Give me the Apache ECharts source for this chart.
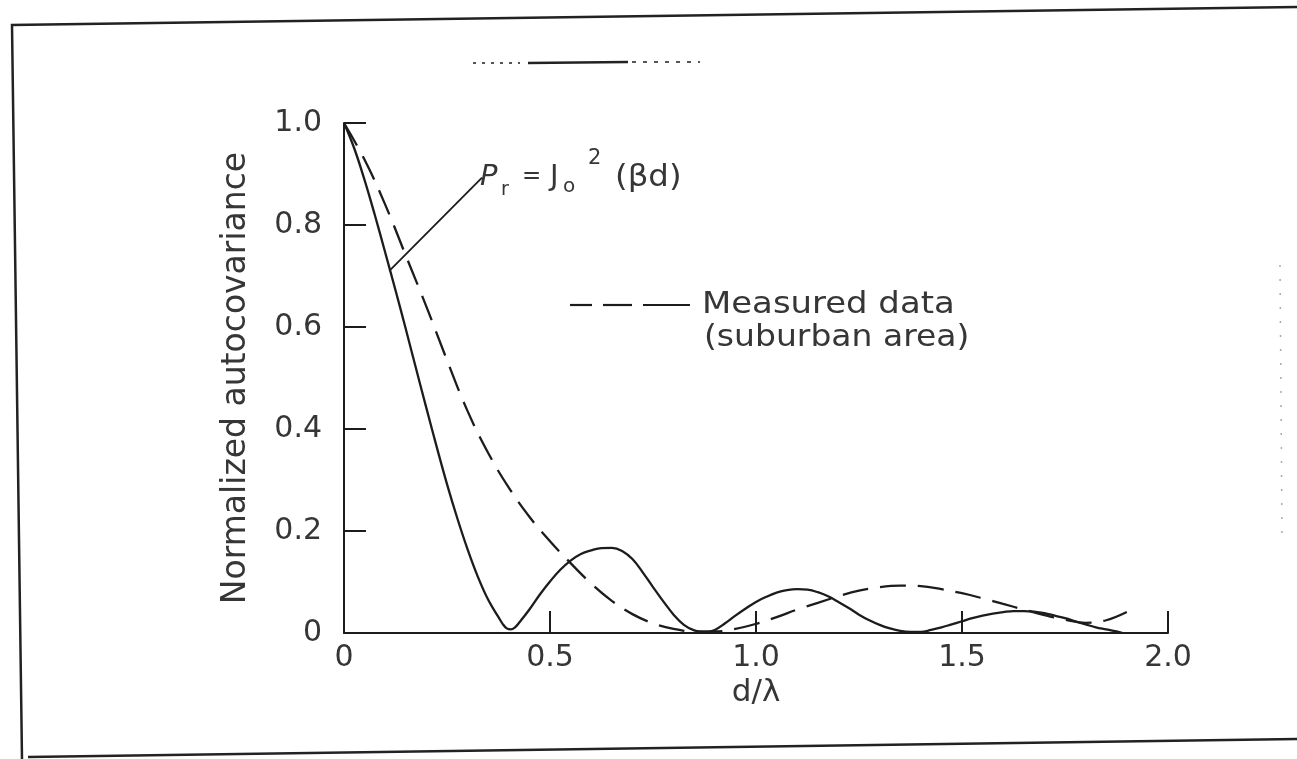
<!DOCTYPE html>
<html><head><meta charset="utf-8">
<script src="https://cdn.jsdelivr.net/npm/echarts@6/dist/echarts.min.js"></script>
<style>html,body{margin:0;padding:0;background:#fff}#c{width:1297px;height:759px}</style>
</head><body><div id="c"></div>
<script>
// Theoretical curve  P_r = J0^2(beta d)
const theoryX = [0, 0.025, 0.05, 0.075, 0.1, 0.125, 0.15, 0.175, 0.2, 0.225, 0.25, 0.275, 0.3, 0.325, 0.35, 0.375, 0.385, 0.395, 0.405, 0.415, 0.425, 0.45, 0.475, 0.5, 0.525, 0.55, 0.575, 0.6, 0.625, 0.65, 0.675, 0.7, 0.725, 0.75, 0.775, 0.8, 0.825, 0.85, 0.875, 0.9, 0.925, 0.95, 0.975, 1.0, 1.025, 1.05, 1.075, 1.1, 1.125, 1.15, 1.175, 1.2, 1.225, 1.25, 1.275, 1.3, 1.325, 1.35, 1.375, 1.4, 1.425, 1.45, 1.475, 1.5, 1.525, 1.55, 1.575, 1.6, 1.625, 1.65, 1.675, 1.7, 1.725, 1.75, 1.775, 1.8, 1.825, 1.85, 1.875, 1.89];
const theoryY = [1.0, 0.95, 0.888, 0.819, 0.746, 0.672, 0.596, 0.518, 0.441, 0.365, 0.292, 0.225, 0.164, 0.11, 0.065, 0.031, 0.018, 0.009, 0.007, 0.011, 0.02, 0.046, 0.075, 0.101, 0.124, 0.142, 0.155, 0.162, 0.1665, 0.167, 0.161, 0.145, 0.119, 0.09, 0.062, 0.036, 0.016, 0.005, 0.001, 0.006, 0.019, 0.034, 0.048, 0.061, 0.071, 0.079, 0.084, 0.086, 0.085, 0.08, 0.072, 0.061, 0.049, 0.036, 0.025, 0.016, 0.009, 0.004, 0.002, 0.002, 0.006, 0.011, 0.017, 0.023, 0.029, 0.034, 0.038, 0.041, 0.043, 0.043, 0.042, 0.039, 0.034, 0.029, 0.023, 0.017, 0.011, 0.007, 0.003, 0.0];
// Measured data (suburban area)
const measuredX = [0, 0.05, 0.1, 0.15, 0.2, 0.25, 0.3, 0.35, 0.4, 0.45, 0.5, 0.55, 0.6, 0.65, 0.7, 0.75, 0.8, 0.85, 0.9, 0.95, 1.0, 1.05, 1.1, 1.15, 1.2, 1.25, 1.3, 1.35, 1.4, 1.45, 1.5, 1.55, 1.6, 1.65, 1.7, 1.75, 1.8, 1.85, 1.9];
const measuredY = [1.0, 0.928, 0.84, 0.74, 0.64, 0.535, 0.435, 0.353, 0.285, 0.228, 0.18, 0.137, 0.097, 0.063, 0.037, 0.019, 0.008, 0.003, 0.003, 0.008, 0.018, 0.031, 0.046, 0.059, 0.072, 0.083, 0.09, 0.093, 0.092, 0.086, 0.078, 0.068, 0.057, 0.046, 0.035, 0.026, 0.02, 0.025, 0.041];
// Axis ticks
const xTicks = [0, 0.5, 1.0, 1.5, 2.0];
const yTicks = [0, 0.2, 0.4, 0.6, 0.8, 1.0];
// Leader line of the formula label (data coords)
const leaderFrom = [0.11, 0.71];
const leaderTo = [0.335, 0.893];

const INK = '#1c1c1c';
const TXT = '#363636';
const FONT = 'DejaVu Sans';
const zip = (xs, ys) => xs.map((x, i) => [x, ys[i]]);
const fmt = v => (v === 0 ? '0' : v.toFixed(1));

const chart = echarts.init(document.getElementById('c'), null, {renderer: 'canvas'});
const axisCommon = {
  type: 'value',
  axisLine: {show: true, lineStyle: {color: INK, width: 2}},
  axisTick: {show: true, inside: true, length: 22, lineStyle: {color: INK, width: 2}},
  splitLine: {show: false},
  axisLabel: {color: TXT, fontFamily: FONT, fontSize: 30, formatter: fmt}
};
const txt = (text, x, y, size, extra, sx) => ({
  type: 'text', x: x, y: y, scaleX: sx || 1,
  style: Object.assign({text: text, fontFamily: FONT, fontSize: size, fill: TXT, verticalAlign: 'middle'}, extra || {})
});
chart.setOption({
  animation: false,
  backgroundColor: '#ffffff',
  grid: {left: 344, right: 129, top: 123, bottom: 126, containLabel: false},
  xAxis: Object.assign({}, axisCommon, {
    min: xTicks[0], max: xTicks[xTicks.length - 1], interval: 0.5,
    name: 'd/\u03BB', nameLocation: 'middle', nameGap: 44,
    nameTextStyle: {color: TXT, fontFamily: FONT, fontSize: 31},
    axisLabel: Object.assign({}, axisCommon.axisLabel, {margin: 10})
  }),
  yAxis: Object.assign({}, axisCommon, {
    min: yTicks[0], max: yTicks[yTicks.length - 1], interval: 0.2,
    name: 'Normalized autocovariance', nameLocation: 'middle', nameGap: 91,
    nameTextStyle: {color: TXT, fontFamily: FONT, fontSize: 33},
    axisLabel: Object.assign({}, axisCommon.axisLabel, {margin: 22})
  }),
  series: [
    {
      name: 'theory', type: 'line', data: zip(theoryX, theoryY),
      showSymbol: false, smooth: 0.4, clip: false,
      lineStyle: {color: INK, width: 2.3},
      markLine: {
        silent: true, symbol: ['none', 'none'], label: {show: false},
        lineStyle: {color: INK, width: 1.8, type: 'solid'},
        data: [[{coord: leaderFrom}, {coord: leaderTo}]]
      }
    },
    {
      name: 'measured', type: 'line', data: zip(measuredX, measuredY),
      showSymbol: false, smooth: 0.4, clip: false,
      lineStyle: {color: INK, width: 2.3, type: [26, 12]}
    }
  ],
  graphic: [
    // scanned page frame
    {type: 'polyline', shape: {points: [[22, 759], [12, 25], [1297, 7]]}, style: {stroke: '#222', lineWidth: 2.5, fill: null}},
    {type: 'line', shape: {x1: 28, y1: 757, x2: 1297, y2: 739}, style: {stroke: '#222', lineWidth: 2.5}},
    // faint rule at the top
    {type: 'line', shape: {x1: 473, y1: 63, x2: 520, y2: 63}, style: {stroke: '#555', lineWidth: 2, lineDash: [3, 6]}},
    {type: 'line', shape: {x1: 528, y1: 63, x2: 628, y2: 62}, style: {stroke: '#222', lineWidth: 2.5}},
    {type: 'line', shape: {x1: 632, y1: 62, x2: 700, y2: 62}, style: {stroke: '#555', lineWidth: 2, lineDash: [4, 7]}},
    // faint dotted specks at the right edge
    {type: 'line', shape: {x1: 1280, y1: 265, x2: 1282, y2: 535}, style: {stroke: '#aaa', lineWidth: 1.5, lineDash: [2, 12]}},
    // formula label  P_r = J_o^2 (βd)
    txt('P', 480, 177, 29, {fontStyle: 'italic'}),
    txt('r', 501, 190, 19),
    txt('=', 522, 177, 23),
    txt('J', 550, 177, 29),
    txt('o', 563, 187, 20),
    txt('2', 588, 159, 21),
    txt('(\u03B2d)', 615, 178, 30, null, 1.08),
    // legend for measured data
    {type: 'line', shape: {x1: 570, y1: 305, x2: 592, y2: 305}, style: {stroke: INK, lineWidth: 2.2}},
    {type: 'line', shape: {x1: 603, y1: 305, x2: 632, y2: 305}, style: {stroke: INK, lineWidth: 2.2}},
    {type: 'line', shape: {x1: 643, y1: 305, x2: 690, y2: 305}, style: {stroke: INK, lineWidth: 2.2}},
    txt('Measured data', 702, 305, 30, null, 1.13),
    txt('(suburban area)', 704, 338, 30, null, 1.1)
  ]
});
</script>
</body></html>
